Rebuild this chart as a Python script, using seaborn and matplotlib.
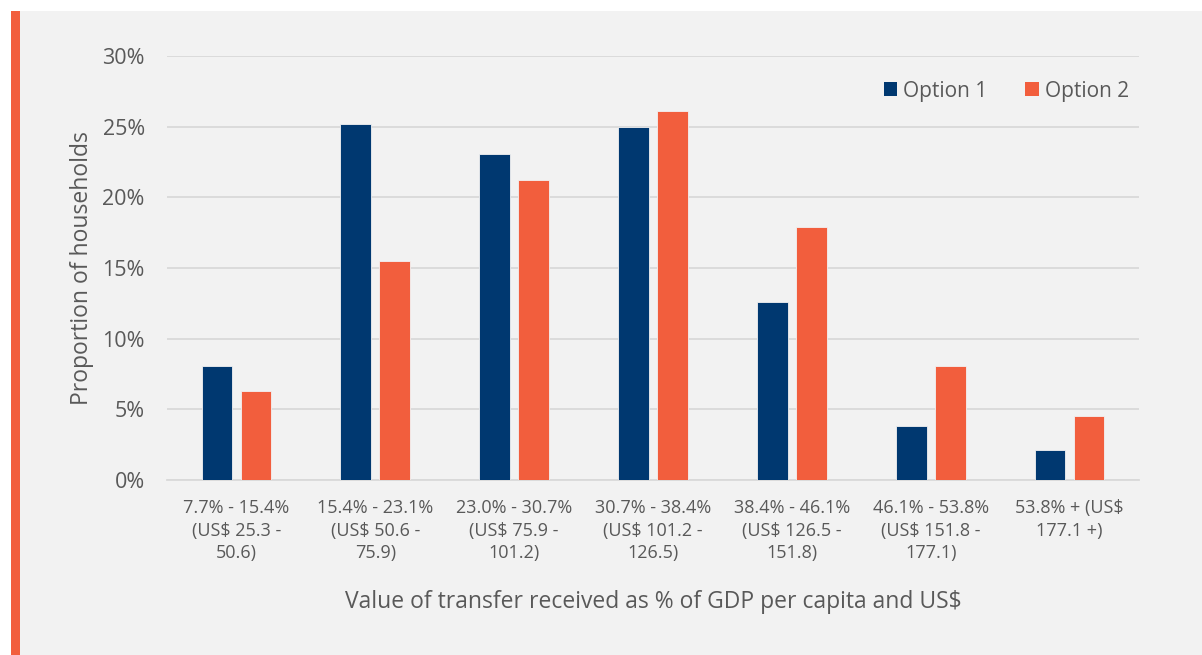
import matplotlib
matplotlib.use('Agg')
import matplotlib.pyplot as plt
import matplotlib.patches as mpatches
from matplotlib.ticker import PercentFormatter
import pandas as pd
import seaborn as sns

categories = ['7.7% - 15.4%\n(US$ 25.3 -\n50.6)',
              '15.4% - 23.1%\n(US$ 50.6 -\n75.9)',
              '23.0% - 30.7%\n(US$ 75.9 -\n101.2)',
              '30.7% - 38.4%\n(US$ 101.2 -\n126.5)',
              '38.4% - 46.1%\n(US$ 126.5 -\n151.8)',
              '46.1% - 53.8%\n(US$ 151.8 -\n177.1)',
              '53.8% + (US$\n177.1 +)']
option1 = [8.1, 25.2, 23.1, 25.0, 12.6, 3.8, 2.1]
option2 = [6.3, 15.5, 21.2, 26.1, 17.9, 8.1, 4.5]

series_names = ['Option 1', 'Option 2']
colors = ['#003870', '#f25e3d']

df = pd.DataFrame({
    'cat': categories * 2,
    'val': option1 + option2,
    'series': [series_names[0]] * 7 + [series_names[1]] * 7,
})

sns.set_theme(style='white')
plt.rcParams['font.family'] = ['Open Sans', 'DejaVu Sans']
txt = '#595959'
bg = '#f2f2f2'

fig = plt.figure(figsize=(12.02, 6.55), dpi=100)
fig.patch.set_facecolor('white')
# grey panel with orange strip on the left
fig.patches.append(mpatches.Rectangle((11 / 1202, 0), 1 - 11 / 1202, 1 - 11 / 655,
                                      transform=fig.transFigure, facecolor=bg, edgecolor='none', zorder=-2))
fig.patches.append(mpatches.Rectangle((11 / 1202, 0), 9 / 1202, 1 - 11 / 655,
                                      transform=fig.transFigure, facecolor='#f25e3d', edgecolor='none', zorder=-1))

ax = fig.add_axes([167 / 1202, 1 - 480 / 655, (1139 - 167) / 1202, (480 - 56) / 655])
ax.set_facecolor(bg)

sns.barplot(data=df, x='cat', y='val', hue='series', palette=colors, width=0.56, gap=0.21,
            ax=ax, legend=False, saturation=1, zorder=3, linewidth=0.6, edgecolor='#f2f2f2')

ax.set_ylim(0, 30)
ax.set_yticks(range(0, 31, 5))
ax.yaxis.set_major_formatter(PercentFormatter(decimals=0))
ax.grid(axis='y', color='#d9d9d9', linewidth=1.3, zorder=0)
ax.set_axisbelow(True)
for s in ['top', 'right', 'left']:
    ax.spines[s].set_visible(False)
ax.spines['bottom'].set_color('#d9d9d9')
ax.spines['bottom'].set_linewidth(1.3)
ax.tick_params(axis='both', length=0, colors=txt)
ax.tick_params(axis='y', pad=16, labelsize=15.5)
ax.tick_params(axis='x', pad=14, labelsize=13)
for lab in ax.get_xticklabels():
    lab.set_linespacing(1.3)

ax.set_xlabel('Value of transfer received as % of GDP per capita and US$', fontsize=16.5, color=txt, labelpad=20)
ax.set_ylabel('Proportion of households', fontsize=16.5, color=txt, labelpad=6)

handles = [mpatches.Patch(facecolor=c, edgecolor='none') for c in colors]
leg = ax.legend(handles, series_names, loc='center right', bbox_to_anchor=(1129 / 1202, 1 - 91 / 655),
                bbox_transform=fig.transFigure, ncol=2, frameon=False, fontsize=15,
                handlelength=0.65, handleheight=0.65, handletextpad=0.3, columnspacing=1.8,
                borderpad=0, borderaxespad=0)
for t in leg.get_texts():
    t.set_color(txt)

fig.savefig('out.png', dpi=100, facecolor=fig.get_facecolor())
